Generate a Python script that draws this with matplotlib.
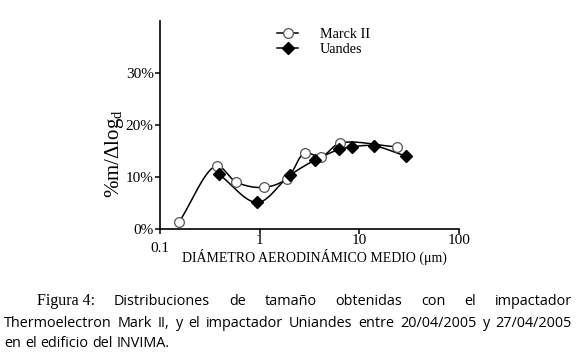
import numpy as np
import matplotlib
matplotlib.use("Agg")
import matplotlib.pyplot as plt
from matplotlib.lines import Line2D

# ---- data ----
marck_x = [0.155, 0.369, 0.585, 1.10, 1.88, 2.82, 4.14, 6.41, 23.6]
marck_y = [1.3, 12.1, 9.0, 8.0, 9.7, 14.6, 13.9, 16.5, 15.8]
uandes_x = [0.392, 0.95, 2.0, 3.63, 6.3, 8.45, 13.9, 29.3]
uandes_y = [10.5, 5.1, 10.3, 13.3, 15.3, 15.8, 16.0, 14.0]
series_labels = ["Marck II", "Uandes"]
yticks = [0, 10, 20, 30]
ytick_labels = ["0%", "10%", "20%", "30%"]
xticks = [0.1, 1, 10, 100]
xtick_labels = ["0.1", "1", "10", "100"]
xlabel = "DIÁMETRO AERODINÁMICO MEDIO (μm)"
caption_lines = [
    ["Figura 4:", "Distribuciones", "de", "tamaño", "obtenidas", "con", "el", "impactador"],
    "Thermoelectron Mark II, y el impactador Uniandes entre 20/04/2005 y 27/04/2005".split(),
    "en el edificio del INVIMA.".split(),
]

SERIF = "Liberation Serif"
SANS = "Open Sans"
plt.rcParams["font.family"] = [SERIF, "DejaVu Serif"]
plt.rcParams["mathtext.fontset"] = "custom"
plt.rcParams["mathtext.rm"] = SERIF


def smooth(xs, ys, n=30):
    """Centripetal Catmull-Rom curve through the points (log-x space)."""
    P = np.column_stack([np.log10(xs), np.asarray(ys) / 40.0 * 2.08])
    P = np.vstack([2 * P[0] - P[1], P, 2 * P[-1] - P[-2]])
    out = []
    for i in range(1, len(P) - 2):
        p0, p1, p2, p3 = P[i - 1], P[i], P[i + 1], P[i + 2]
        def tj(ti, a, b):
            return ti + np.linalg.norm(b - a) ** 0.5 + 1e-9
        t0 = 0.0
        t1 = tj(t0, p0, p1)
        t2 = tj(t1, p1, p2)
        t3 = tj(t2, p2, p3)
        t = np.linspace(t1, t2, n)[:, None]
        A1 = (t1 - t) / (t1 - t0) * p0 + (t - t0) / (t1 - t0) * p1
        A2 = (t2 - t) / (t2 - t1) * p1 + (t - t1) / (t2 - t1) * p2
        A3 = (t3 - t) / (t3 - t2) * p2 + (t - t2) / (t3 - t2) * p3
        B1 = (t2 - t) / (t2 - t0) * A1 + (t - t0) / (t2 - t0) * A2
        B2 = (t3 - t) / (t3 - t1) * A2 + (t - t1) / (t3 - t1) * A3
        C = (t2 - t) / (t2 - t1) * B1 + (t - t1) / (t2 - t1) * B2
        out.append(C)
    C = np.vstack(out)
    return 10 ** C[:, 0], C[:, 1] / 2.08 * 40.0


W, H = 580, 356
fig = plt.figure(figsize=(W / 100, H / 100), dpi=100)
AX_L, AX_R, AX_B, AX_T = 160, 459, 229, 21
ax = fig.add_axes([AX_L / W, 1 - AX_B / H, (AX_R - AX_L) / W, (AX_B - AX_T) / H])

lw = 1.1
sx, sy = smooth(marck_x, marck_y)
ax.plot(sx, sy, color="black", lw=lw, zorder=2)
sx2, sy2 = smooth(uandes_x, uandes_y)
ax.plot(sx2, sy2, color="black", lw=lw, zorder=2)
ax.plot(marck_x, marck_y, ls="none", marker="o", ms=7, mfc="white", mec="#555555",
        mew=0.9, zorder=3)
ax.plot(uandes_x, uandes_y, ls="none", marker="D", ms=6, mfc="black", mec="black", zorder=4)

ax.set_xscale("log")
ax.set_xlim(0.1, 100)
ax.set_ylim(0, 40)
ax.set_xticks(xticks)
ax.set_xticklabels([""] + xtick_labels[1:])
ax.minorticks_off()
ax.set_yticks(yticks)
ax.set_yticklabels(ytick_labels)
for s in ["top", "right"]:
    ax.spines[s].set_visible(False)
for s in ["left", "bottom"]:
    ax.spines[s].set_linewidth(1.2)
ax.tick_params(axis="both", direction="out", length=3.5, width=1.1, labelsize=11, pad=1)
ax.tick_params(axis="x", pad=0)
# first x tick label sits lower, as in the reference
ax.text(xticks[0], (AX_B - 248) / (AX_B - AX_T), xtick_labels[0],
        transform=ax.get_xaxis_transform(), ha="center", va="center", fontsize=11)

ax.set_xlabel(xlabel, fontsize=10, va="baseline")
ax.xaxis.set_label_coords(0.515, (AX_B - 262) / (AX_B - AX_T))
ax.set_ylabel(r"%m/$\mathregular{\Delta log_d}$", fontsize=15, va="center")
ax.yaxis.set_label_coords((115 - AX_L) / (AX_R - AX_L), (AX_B - 154) / (AX_B - AX_T))

# legend
h1 = Line2D([], [], color="black", lw=lw, marker="o", ms=7, mfc="white", mec="#555555", mew=0.9)
h2 = Line2D([], [], color="black", lw=lw, marker="D", ms=6, mfc="black", mec="black")
fig.legend([h1, h2], series_labels, loc="upper left",
           bbox_to_anchor=(270 / W, 1 - 21 / H), frameon=False, fontsize=10.2,
           handlelength=1.5, handletextpad=1.5, labelspacing=0.15, borderpad=0)

# caption, justified
fig.canvas.draw()
renderer = fig.canvas.get_renderer()


def put_line(words, x0, x1, ybase, justify):
    arts = []
    for w in words:
        if w.startswith("Figura"):
            t = fig.text(0, 0, w, fontsize=11.5, family=[SERIF], va="baseline")
        else:
            t = fig.text(0, 0, w, fontsize=10.4, family=[SANS, "DejaVu Sans"], va="baseline")
        arts.append(t)
    widths = [a.get_window_extent(renderer).width for a in arts]
    if justify:
        gap = (x1 - x0 - sum(widths)) / (len(words) - 1)
    else:
        gap = 4.0
    x = x0
    for a, wd in zip(arts, widths):
        a.set_position((x / W, 1 - ybase / H))
        x += wd + gap


put_line(caption_lines[0], 37, 572, 305, True)
put_line(caption_lines[1], 4, 572, 327, True)
put_line(caption_lines[2], 4, 572, 347, False)

fig.savefig("out.png", dpi=100)
